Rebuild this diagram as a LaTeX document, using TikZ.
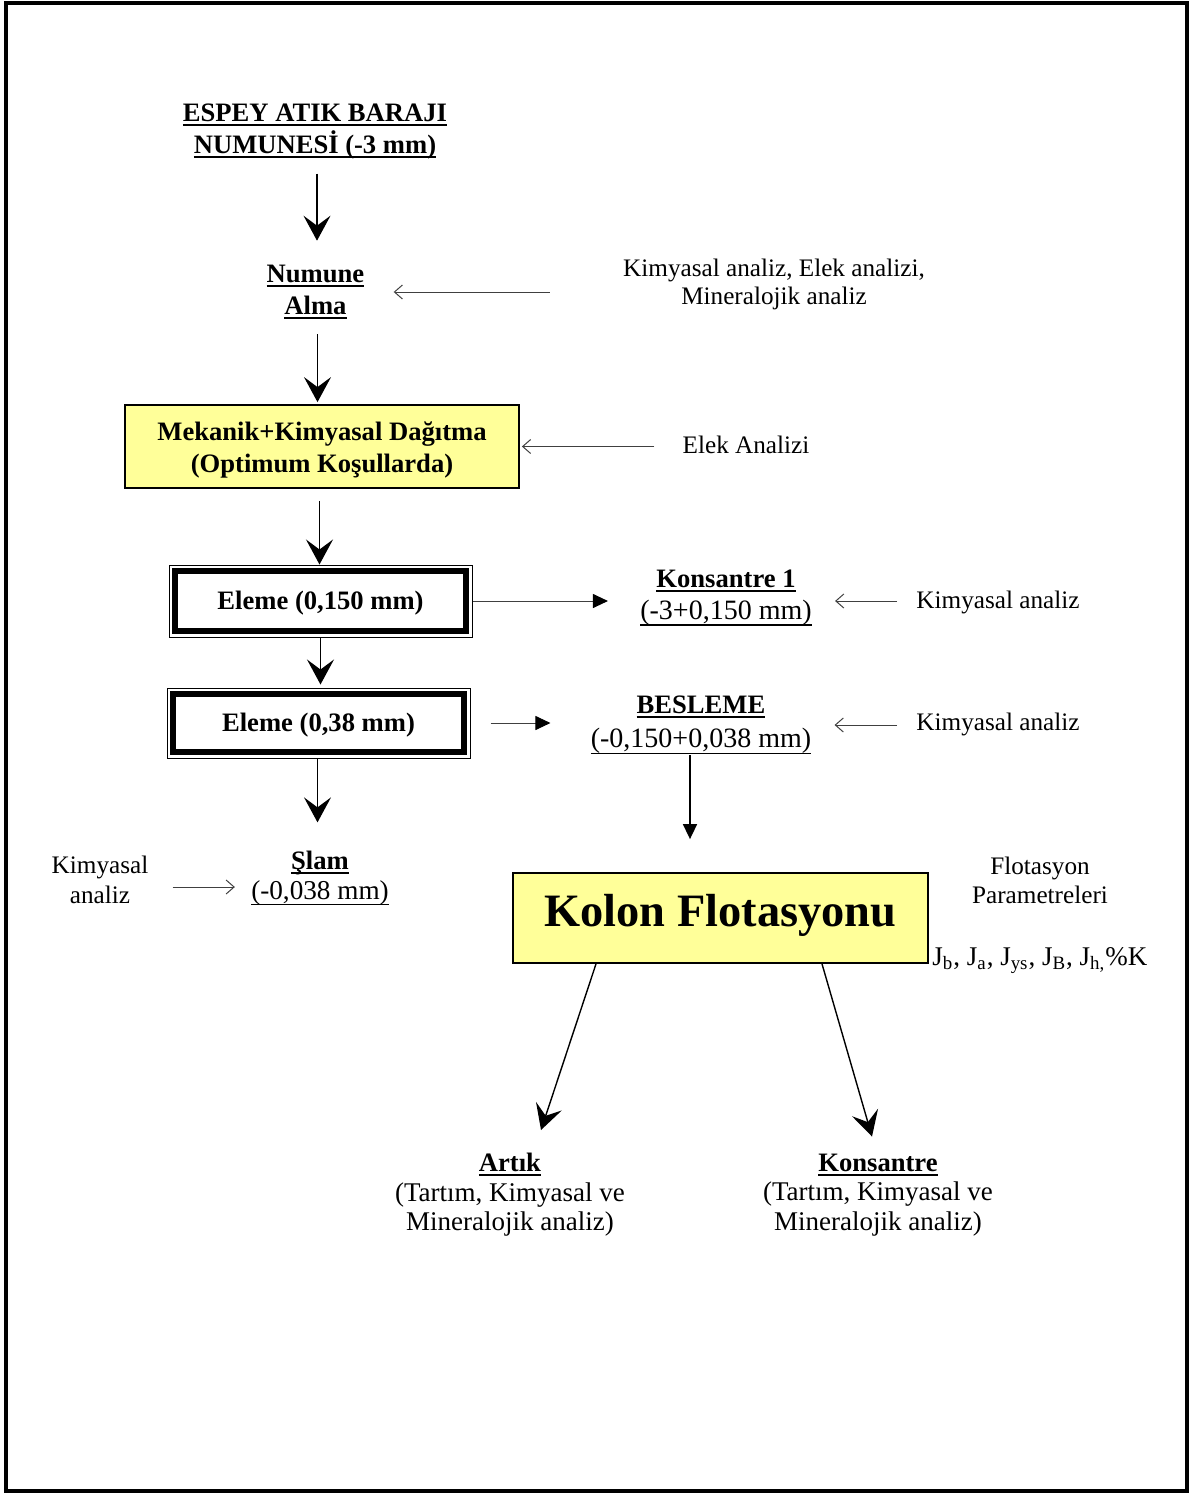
\documentclass[tikz,border=0pt]{standalone}
\usepackage{fontspec}
\setmainfont{Liberation Serif}
\usetikzlibrary{arrows.meta,calc}
\definecolor{boxyellow}{RGB}{255,255,153}
\newcommand\bdf{\fontsize{13.3pt}{16pt}\selectfont\bfseries}
\newcommand\rgf{\fontsize{12.6pt}{14pt}\selectfont}
\newcommand\bdtxt[1]{{\fontsize{13.3pt}{16pt}\selectfont\bfseries #1}}
\newcommand\sztxt[2]{{\fontsize{#1}{16pt}\selectfont #2}}
\newcommand\ulb[1]{\begingroup\setbox0=\hbox{#1}\rlap{\copy0}\rule[-2.2pt]{\wd0}{1pt}\endgroup}
\newcommand\ulr[1]{\begingroup\setbox0=\hbox{#1}\rlap{\copy0}\rule[-3pt]{\wd0}{0.65pt}\endgroup}
\tikzset{
  txt/.style={inner sep=0pt, align=center},
  bigarrow/.style={line width=0.7pt, -{Stealth[length=12.5pt,width=13.5pt,inset=5pt]}},
  thinarrow/.style={line width=0.5pt, draw=black!75, -{Straight Barb[length=4pt,width=7pt]}},
  triarrow/.style={line width=0.5pt, draw=black!75, -{Triangle[length=7.5pt,width=7pt,color=black]}},
  feedarrow/.style={line width=0.8pt, -{Triangle[length=7.5pt,width=7pt]}},
  ybox/.style={draw, line width=0.9pt, fill=boxyellow, inner sep=0pt, align=center},
  elbox/.style={draw, line width=0.5pt, fill=white, inner sep=0pt, minimum width=151.5pt, text height=9pt, text depth=1pt},
  elframe/.style={line width=3pt},
  frame/.style={line width=1.75pt},
}
\begin{document}
\begin{tikzpicture}[x=0.5pt,y=-0.5pt]
\useasboundingbox (0,0) rectangle (1190,1493);
\draw[frame] (6,3) rectangle (1187,1491);

% nodes
\node[txt, font=\bdf] (title) at (315,131.5) {\ulb{ESPEY ATIK BARAJI}\\\ulb{NUMUNESİ (-3 mm)}};
\node[txt, font=\bdf] (numune) at (315.5,292) {\ulb{Numune}\\\ulb{Alma}};
\node[txt, font=\rgf] (kea) at (774,284) {Kimyasal analiz, Elek analizi,\\Mineralojik analiz};
\node[ybox, minimum width=197pt, minimum height=41.5pt, font=\bdf] (mek) at (322,446.5) {\rule{0pt}{13.3pt}Mekanik+Kimyasal Dağıtma\\(Optimum Koşullarda)};
\node[txt, font=\rgf] (elek) at (746,445) {Elek Analizi};

\node[elbox, minimum height=36pt, font=\bdf] (el1) at (320.5,601) {Eleme (0,150 mm)};
\draw[elframe] ([shift={(3.3pt,-3.4pt)}]el1.north west) rectangle ([shift={(-3.3pt,3.1pt)}]el1.south east);
\node[elbox, minimum height=35pt, font=\bdf] (el2) at (318.5,723) {Eleme (0,38 mm)};
\draw[elframe] ([shift={(3.3pt,-3.4pt)}]el2.north west) rectangle ([shift={(-3.3pt,3.1pt)}]el2.south east);

\node[txt, font={\fontsize{12.6pt}{16pt}\selectfont}] (kons1) at (726,598) {\bdtxt{\ulb{Konsantre 1}}\\\sztxt{14pt}{\ulr{(-3+0,150 mm)}}};
\node[txt, font=\rgf] (ka1) at (998,602) {Kimyasal analiz};
\node[txt, font={\fontsize{12.6pt}{17pt}\selectfont}] (besl) at (701,725) {\bdtxt{\ulb{BESLEME}}\\\sztxt{14pt}{\ulr{(-0,150+0,038 mm)}}};
\node[txt, font=\rgf] (ka2) at (998,724) {Kimyasal analiz};

\node[txt, font={\fontsize{12.6pt}{15pt}\selectfont}] (slam) at (320,878) {\bdtxt{\ulb{Şlam}}\\\sztxt{13.6pt}{\ulr{(-0,038 mm)}}};
\node[txt, font={\fontsize{12.6pt}{15pt}\selectfont}] (kimL) at (100,880) {Kimyasal\\analiz};

\node[ybox, minimum width=207.5pt, minimum height=45pt, text depth=8pt, font={\fontsize{23.2pt}{26pt}\selectfont\bfseries}] (kolon) at (720.5,918) {Kolon Flotasyonu};
\node[txt, font={\fontsize{12.6pt}{14.5pt}\selectfont}] (flot) at (1040,880.5) {Flotasyon\\Parametreleri};
\node[txt, anchor=base west, font={\fontsize{13.5pt}{15pt}\selectfont}] (jpar) at (932,965) {J\textsubscript{b}, J\textsubscript{a}, J\textsubscript{ys}, J\textsubscript{B}, J\textsubscript{h,}\%K};

\node[txt, font={\fontsize{13.5pt}{14.75pt}\selectfont}] (artik) at (510,1195) {\bdtxt{\ulb{Artık}}\\(Tartım, Kimyasal ve\\Mineralojik analiz)};
\node[txt, font={\fontsize{13.5pt}{14.75pt}\selectfont}] (kons) at (878,1195) {\bdtxt{\ulb{Konsantre}}\\(Tartım, Kimyasal ve\\Mineralojik analiz)};

% connectors
\draw[bigarrow, shorten <=7pt, shorten >=12pt] ([xshift=1pt]title.south) -- ([xshift=1pt]title.south |- numune.north);
\draw[bigarrow, shorten <=7.5pt, shorten >=1pt] ([xshift=1pt]numune.south) -- ([xshift=1pt]numune.south |- mek.north);
\draw[bigarrow, shorten <=6pt] ([xshift=-0.5pt]el1.north |- mek.south) -- ([xshift=-0.5pt]el1.north);
\draw[bigarrow, shorten >=1.5pt] (el1.south) -- (el1.south |- el2.north);
\draw[bigarrow, shorten >=14pt] ([xshift=-0.5pt]el2.south) -- ([xshift=-0.5pt]el2.south |- slam.north);

\draw[thinarrow, shorten <=36.5pt, shorten >=14.5pt] (kea.west |- numune.east) -- (numune.east);
\draw[thinarrow, shorten <=14pt, shorten >=1pt] (elek.west |- mek.east) -- (mek.east);
\draw[thinarrow, shorten <=9.5pt, shorten >=11.5pt] ([yshift=0.5pt]ka1.west) -- ([yshift=0.5pt]ka1.west -| kons1.east);
\draw[thinarrow, shorten <=9.5pt, shorten >=11.5pt] ([yshift=-0.5pt]ka2.west) -- ([yshift=-0.5pt]ka2.west -| besl.east);
\draw[thinarrow, shorten <=12pt, shorten >=8pt] ([yshift=-3.5pt]kimL.east) -- ([yshift=-3.5pt]kimL.east -| slam.west);

\draw[triarrow, shorten >=16pt] (el1.east) -- (el1.east -| kons1.west);
\draw[triarrow, shorten <=10pt, shorten >=20pt] (el2.east) -- (el2.east -| besl.west);
\draw[feedarrow, shorten <=0.5pt, shorten >=16.5pt] ([xshift=-5.5pt]besl.south) -- ([xshift=-5.5pt]besl.south |- kolon.north);

\draw[bigarrow] ([xshift=-62.25pt]kolon.south) -- ([xshift=15.5pt,yshift=11.5pt]artik.north);
\draw[bigarrow] ([xshift=50.75pt]kolon.south) -- ([xshift=-3pt,yshift=8.5pt]kons.north);
\end{tikzpicture}
\end{document}
